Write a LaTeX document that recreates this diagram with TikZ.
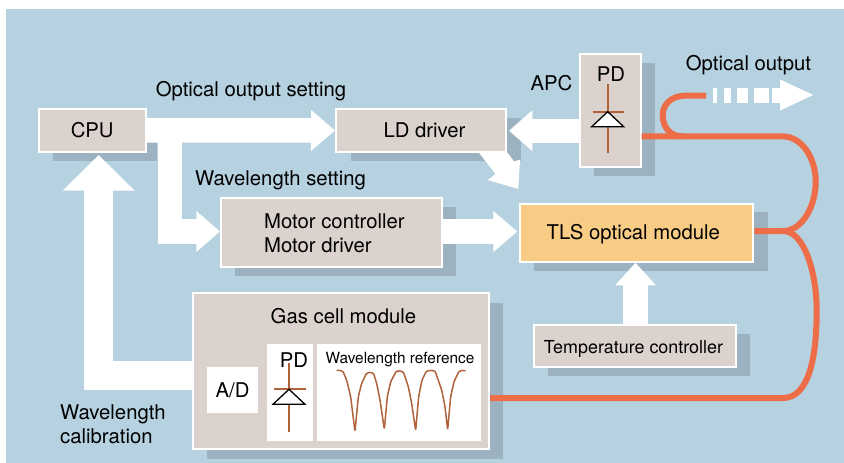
\documentclass[tikz,border=0pt]{standalone}
\usepackage{fontspec}
\setmainfont{TeX Gyre Heros}
\usetikzlibrary{arrows.meta}
\definecolor{bgblue}{HTML}{B6D1E0}
\definecolor{shadowc}{HTML}{9DB2C0}
\definecolor{boxc}{HTML}{DBD2CD}
\definecolor{tlsc}{HTML}{F8CC85}
\definecolor{fiberc}{HTML}{EC6D48}
\definecolor{brownc}{HTML}{B0623A}
\newcommand{\fs}[1]{\fontsize{#1}{24.7}\selectfont}
\tikzset{
  x=1pt,y=-1pt,
  shadowbox/.style={fill=shadowc},
  block/.style n args={2}{draw=white,line width=2pt,fill=#1,inner sep=0pt,minimum width=#2},
  txt/.style={font=\fs{20.3},inner sep=0pt,text=black},
  whitebox/.style={fill=white,inner sep=0pt},
  blockarrow/.style n args={3}{draw=white,line width=#1pt,line join=miter,
     -{Triangle[length=#3pt,width=#2pt,fill=white]}},
  fiber/.style={draw=fiberc,line width=6pt},
  wire/.style={draw=brownc,line width=1.7pt},
  diode/.style={draw=black,fill=white,line width=1.3pt,line join=miter},
}
\begin{document}
\begin{tikzpicture}
\useasboundingbox (0,0) rectangle (844,463);
\fill[white] (0,0) rectangle (844,463);
\fill[bgblue] (6,9) rectangle (844,463);
% shadows
\fill[shadowbox] (53,118) rectangle (157,161);
\fill[shadowbox] (351,118) rectangle (521,161);
\fill[shadowbox] (594,62.7) rectangle (655,176);
\fill[shadowbox] (235,207) rectangle (456,276);
\fill[shadowbox] (534,212) rectangle (768,271);
\fill[shadowbox] (548,334) rectangle (750,376);
\fill[shadowbox] (207,302.7) rectangle (503,459);
% boxes
\node[block={boxc}{107pt},minimum height=42.7pt,font=\fs{20.3},text height=14.4pt,text depth=0pt] (cpu) at (92.2,130.3) {CPU};
\node[block={boxc}{170pt},minimum height=42.4pt,font=\fs{20.3},text height=14.4pt,text depth=0pt] (ld) at (421,130.5) {\hspace*{7pt}LD driver};
\node[block={boxc}{61pt},minimum height=113pt] (pd) at (610.2,110.2) {};
\node[block={boxc}{220.7pt},minimum height=68.4pt] (motor) at (331.35,232.5) {};
\node[block={tlsc}{233pt},minimum height=58pt,font=\fs{20.3},text height=13pt,text depth=0pt] (tls) at (636.8,232.7) {TLS optical module\hspace*{7pt}};
\node[block={boxc}{201.4pt},minimum height=41.7pt,font=\fs{17.9},text height=15pt,text depth=0pt] (temp) at (635,345.85) {Temperature controller\hspace*{3pt}};
\node[block={boxc}{295.7pt},minimum height=155.7pt] (gas) at (341.15,371.15) {};
\node[whitebox,minimum width=51pt,minimum height=45.7pt,font=\fs{20.3}] (ad) at (232.5,389.85) {A/D};
\node[whitebox,minimum width=45.7pt,minimum height=96.7pt] (pdwhite) at (289.85,392.35) {};
\node[whitebox,minimum width=163.7pt,minimum height=96.7pt] (wlref) at (398.85,392.35) {};
% labels
\node[txt,anchor=base west] (motor1) at (264,228) {Motor controller};
\node[txt,anchor=base west] (motor2) at (264,252.7) {Motor driver};
\node[txt,anchor=base] (gaslabel) at (343.5,323.3) {Gas cell module};
\node[txt,anchor=base] (l1) at (251,96) {Optical output setting};
\node[txt,anchor=base] (l2) at (280.5,185) {Wavelength setting};
\node[txt,anchor=base] (l3) at (551.5,90) {APC};
\node[txt,anchor=base] (l4) at (748.5,70) {Optical output};
\node[txt,anchor=base west] (l5) at (60,419.3) {Wavelength};
\node[txt,anchor=base west] (l6) at (60,443.3) {calibration};
% block arrows
\coordinate (branch) at (169.8,131);
\coordinate (motorin) at (220,231.5);
\coordinate (motorout) at (442.7,231.5);
\coordinate (tlsin) at (517.3,231.5);
\coordinate (calcorner) at (98.7,375.3);
\coordinate (cpuin) at (98.7,155);
\coordinate (tempup) at (635.5,262.7);
\coordinate (apcfrom) at (578.7,130.7);
\coordinate (apcto) at (509,130.7);
\draw[blockarrow={24.5}{39.5}{24}] (cpu.east) -- (ld.west);
\draw[blockarrow={24.5}{39.5}{23.7}] (branch) |- (motorin);
\draw[blockarrow={24.3}{39.6}{24}] (motorout) -- (tlsin);
\draw[blockarrow={29.3}{70}{35.7}] (gas.west |- calcorner) -- (calcorner) -- (cpuin);
\draw[blockarrow={24.4}{39.3}{22.6}] (temp.north -| tempup) -- (tempup);
\draw[blockarrow={23.6}{39.3}{23.3}] (apcfrom) -- (apcto);
\fill[white] ([xshift=58pt]ld.south) -- ++(16.5,21.3) -- ++(-7.8,6) -- ++(30.6,9) -- ++(1.7,-29.3) -- ++(-6,1.7) -- ++(-6.5,-8.7) -- cycle;
% optical output
\coordinate (dashstart) at (712.7,95);
\coordinate (dashend) at (771.7,95);
\coordinate (outtip) at (814.3,95);
\draw[white,line width=15pt,dash pattern=on 4.5pt off 6.5pt on 7pt off 6pt on 11pt off 6pt on 15pt off 3pt] (dashstart) -- (dashend);
\draw[blockarrow={15}{28.3}{34.3}] (dashend) -- (outtip);
% fibre
\coordinate (fj) at (783,231);
\coordinate (fpd) at (641.7,136.3);
\draw[fiber] (706,95.7) -- (685,95.7) .. controls (672,95.7) and (662.7,104) .. (662.7,115) .. controls (662.7,127) and (670,136.3) .. (682,136.3);
\draw[fiber] (fpd) -- (782,136.3) .. controls (802,136.3) and (815.7,158) .. (815.7,181.7) .. controls (815.7,205) and (803,231) .. (fj);
\draw[fiber] (tls.east |- fj) -- (fj) .. controls (805,231) and (816.7,275) .. (816.7,310) .. controls (816.7,360) and (808,398) .. (783,398) -- (gas.east |- 0,398);
% upper photodiode
\draw[wire] (607.7,84.3) -- (607.7,153.3);
\draw[wire] (592.7,111.7) -- (624,111.7);
\draw[diode] (607.7,111.7) -- (623.7,126.7) -- (591.7,126.7) -- cycle;
\node[txt,anchor=base] (pdtop) at (611,81.7) {PD};
% lower photodiode
\draw[wire] (289,363) -- (289,431.7);
\draw[wire] (274.3,389.3) -- (305.7,389.3);
\draw[diode] (289,389.3) -- (305,404.3) -- (273,404.3) -- cycle;
\node[txt,anchor=base] (pdlow) at (294,367.7) {PD};
% wavelength reference
\node[txt,font=\fs{15.4},anchor=base] (wltext) at (400,363.3) {Wavelength reference};
\begin{scope}[shift={(180,280)},x=0.33333pt,y=-0.33333pt]
\draw[wire,line width=1.5pt,rounded corners=1.5pt,line join=round]
 (470,271) -- (488,272) -- (500,300) -- (512,350) -- (525,455) -- (535,350) -- (545,310) -- (560,278) -- (580,278) -- (590,310) -- (600,360) -- (613,448) -- (622,350) -- (632,305) -- (650,272) -- (670,275) -- (685,320) -- (695,370) -- (707,452) -- (716,350) -- (726,300) -- (740,272) -- (765,272) -- (785,330) -- (795,380) -- (803,450) -- (812,350) -- (822,305) -- (838,272) -- (857,272);
\end{scope}
\end{tikzpicture}
\end{document}
